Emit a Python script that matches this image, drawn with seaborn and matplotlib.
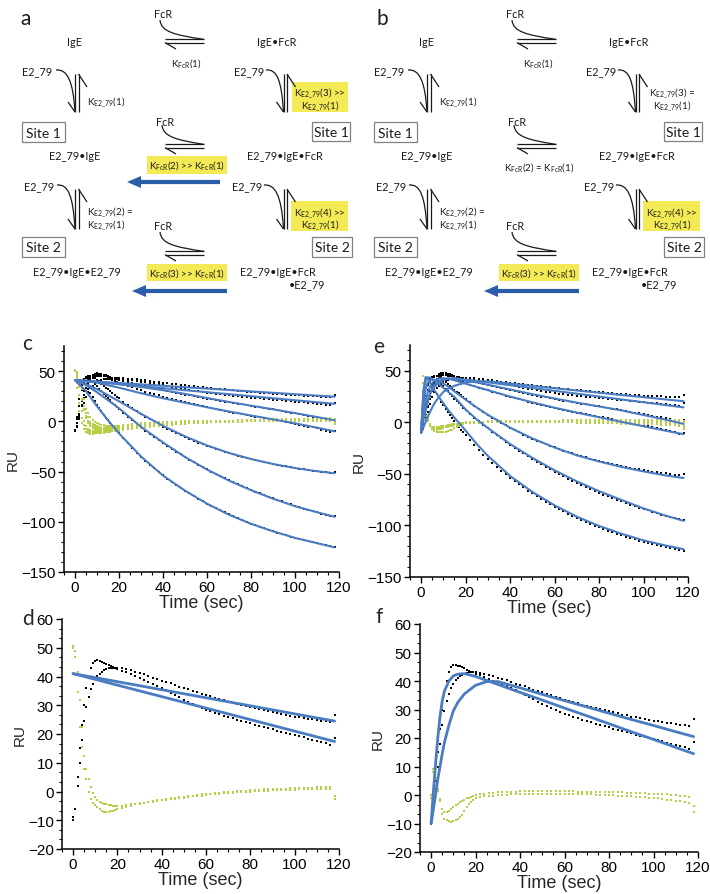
import matplotlib
matplotlib.use("Agg")
import numpy as np
import pandas as pd
import matplotlib.pyplot as plt
from matplotlib.path import Path
from matplotlib.patches import PathPatch, Rectangle, FancyArrow
from matplotlib.ticker import MultipleLocator, AutoMinorLocator
import seaborn as sns

sns.set_theme(style="ticks", rc={"axes.edgecolor": "black", "xtick.color": "black",
                                 "ytick.color": "black", "axes.linewidth": 1.1})
plt.rcParams["font.family"] = ["Liberation Sans", "DejaVu Sans"]
plt.rcParams["mathtext.fontset"] = "custom"
plt.rcParams["mathtext.rm"] = "Lato"
plt.rcParams["mathtext.it"] = "Lato:italic"

# ---------------- data ----------------
# sampling times of the measured points (1 s early, 2 s afterwards)
T = list(range(0, 21)) + list(range(22, 119, 2))

# measured response, 7 injections (same data in c, d, e, f)
black_1 = [-9, -6, 2, 10, 18, 24.5, 29.5, 33, 35.5, 37.5, 39, 40.2, 41, 41.7, 42.2, 42.5, 42.8, 43.0, 43.1, 43.1, 43.0,
           42.9, 42.6, 42.2, 41.7, 41.2, 40.7, 40.2, 39.6, 39.1, 38.6, 38.1, 37.6, 37.0, 36.5, 36.0, 35.5, 35.0, 34.5, 34.0, 33.5,
           33.1, 32.6, 32.2, 31.7, 31.3, 30.9, 30.5, 30.1, 29.7, 29.3, 29.0, 28.6, 28.2, 27.9, 27.5, 27.2, 26.9, 26.6, 26.3, 26.0,
           25.8, 25.6, 25.3, 25.1, 24.8, 24.6, 24.4, 24.1, 26.5]
black_2 = [-10, -6, 5, 15, 23, 30, 36, 40, 43, 44.8, 45.5, 45.6, 45.4, 45.1, 44.8, 44.4, 44.0, 43.6, 43.3, 43.0, 42.6,
           42.0, 41.4, 40.8, 40.1, 39.5, 38.8, 38.1, 37.4, 36.7, 36.0, 35.2, 34.4, 33.6, 32.8, 32.0, 31.2, 30.5, 29.8, 29.1, 28.5,
           27.9, 27.4, 26.9, 26.4, 26.0, 25.5, 25.0, 24.6, 24.1, 23.7, 23.3, 22.9, 22.5, 22.1, 21.6, 21.2, 20.8, 20.4, 20.0, 19.6,
           19.2, 18.8, 18.4, 18.0, 17.5, 17.1, 16.7, 16.2, 18.5]
black_3 = [-10, -6, 4, 16, 26, 33, 38.5, 42, 44.5, 46, 47, 47.2, 47, 46.5, 45.8, 45, 44.2, 43.4, 42.6, 41.8, 41.0,
           40.2, 39.3, 38.3, 37.3, 36.3, 35.3, 34.3, 33.3, 32.3, 31.3, 30.3, 29.4, 28.5, 27.6, 26.7, 25.8, 25.0, 24.2, 23.4, 22.6,
           21.8, 21.0, 20.3, 19.6, 18.9, 18.2, 17.5, 16.8, 16.1, 15.4, 14.7, 14.0, 13.3, 12.6, 11.9, 11.1, 10.3, 9.5, 8.7, 7.9,
           7.1, 6.3, 5.5, 4.7, 3.9, 3.1, 2.3, 1.4, 2.5]
black_4 = [-10, -5, 7, 20, 30, 37, 41.5, 44.5, 46.5, 47.5, 48, 47.5, 46.7, 45.8, 44.8, 43.7, 42.6, 41.5, 40.4, 39.3, 38.2,
           36.6, 35.1, 33.7, 32.3, 31.0, 29.7, 28.4, 27.1, 25.8, 24.5, 23.4, 22.3, 21.2, 20.1, 19.0, 18.0, 17.0, 16.0, 15.0, 14.0,
           13.1, 12.2, 11.3, 10.4, 9.5, 8.7, 7.9, 7.1, 6.3, 5.5, 4.7, 3.9, 3.1, 2.3, 1.5, 0.7, -0.1, -0.9, -1.7, -2.5,
           -3.4, -4.3, -5.2, -6.1, -7.0, -8.3, -9.6, -11.0, -10.0]
black_5 = [-10, -2, 15, 31, 39.5, 43.5, 45, 45, 44.2, 43, 41.5, 39.5, 37.5, 35.5, 33.6, 31.7, 29.9, 28.0, 26.3, 24.5, 22.8,
           19.5, 16.3, 13.2, 10.2, 7.4, 4.6, 2.0, -0.5, -3.0, -5.3, -7.6, -9.8, -11.9, -13.9, -15.8, -17.7, -19.5, -21.2, -22.8, -24.4,
           -26.0, -27.5, -28.9, -30.2, -31.6, -32.8, -34.1, -35.2, -36.4, -37.4, -38.5, -39.5, -40.5, -41.4, -42.3, -43.1, -44.0,
           -44.8, -45.5, -46.3, -47.0, -47.7, -48.3, -49.0, -49.6, -50.1, -50.7, -51.2, -50.0]
black_6 = [-10, 2, 22, 36, 42, 44, 43.5, 42, 40, 37.5, 35, 32.5, 30, 27.6, 25.3, 23, 20.8, 18.6, 16.4, 14.2, 12.0,
           8.2, 4.6, 1.0, -2.5, -5.9, -9.2, -12.4, -15.6, -18.6, -21.6, -24.5, -27.4, -30.2, -32.9, -35.5, -38.1, -40.6, -43.1,
           -45.4, -47.8, -50.1, -52.3, -54.5, -56.6, -58.6, -60.7, -62.6, -64.6, -66.4, -68.2, -70.0, -71.7, -73.4, -75.1, -76.7,
           -78.2, -79.8, -81.3, -82.7, -84.1, -85.5, -86.8, -88.1, -89.4, -90.6, -91.9, -93.1, -94.2, -94.5]
black_7 = [-10, 4, 26, 38, 41, 36.5, 32, 27.8, 23.8, 20, 16.4, 13, 9.8, 6.7, 3.8, 1, -1.8, -4.4, -7, -9.5, -12,
           -17.0, -22.0, -27.0, -31.6, -35.6, -39.5, -43.2, -46.9, -50.4, -53.8, -57.0, -60.2, -63.2, -66.2, -69.0, -71.8, -74.4,
           -77.0, -79.5, -81.9, -84.2, -86.4, -88.6, -90.7, -92.7, -94.6, -96.5, -98.3, -100.1, -101.8, -103.4, -105.0, -106.5,
           -108.0, -109.5, -110.8, -112.2, -113.5, -114.7, -115.9, -117.1, -118.2, -119.3, -120.3, -121.3, -122.3, -123.2,
           -124.1, -125.0]

# residuals of the model of panel c/d
green_c1 = [50, 49, 41.5, 32, 22.5, 12.5, 8, 4.5, 1.5, -0.5, -2, -3, -3.6, -4.0, -4.3, -4.5, -4.7, -4.8, -4.9, -5.0, -5.0,
            -4.9, -4.7, -4.5, -4.3, -4.1, -3.9, -3.7, -3.5, -3.3, -3.1, -2.9, -2.7, -2.5, -2.3, -2.1, -1.9, -1.7, -1.5, -1.4, -1.2,
            -1.0, -0.9, -0.7, -0.6, -0.5, -0.4, -0.3, -0.2, -0.1, 0.0, 0.1, 0.2, 0.2, 0.3, 0.4, 0.4, 0.5, 0.5, 0.6, 0.6,
            0.7, 0.7, 0.8, 0.8, 0.9, 0.9, 1.0, 1.0, -2.5]
green_c2 = [50.7, 46.7, 34.5, 22.3, 15.4, 7.8, 4.3, -0.3, -2.6, -4, -4.8, -5.5, -6.2, -6.7, -7.1, -7.2, -7.1, -6.9, -6.7, -6.4, -6.1,
            -5.7, -5.3, -4.9, -4.5, -4.2, -3.9, -3.6, -3.3, -3.1, -2.9, -2.6, -2.4, -2.2, -2.0, -1.8, -1.6, -1.4, -1.2, -1.0, -0.9,
            -0.7, -0.5, -0.4, -0.2, -0.1, 0.0, 0.1, 0.2, 0.3, 0.4, 0.5, 0.6, 0.7, 0.8, 0.8, 0.9, 1.0, 1.0, 1.1, 1.1,
            1.2, 1.2, 1.3, 1.3, 1.4, 1.4, 1.5, 1.5, -1.5]
green_c3 = [51, 45, 35, 22, 12, 5, 0.5, -2.5, -4.5, -6, -7, -7.4, -7.6, -7.6, -7.4, -7.1, -6.8, -6.4, -6, -5.6, -5.2,
            -4.8, -4.4, -4.0, -3.6, -3.2, -2.9, -2.6, -2.3, -2.0, -1.7, -1.4, -1.2, -1.0, -0.8, -0.6, -0.4, -0.3, -0.2, -0.1, 0.0,
            0.1, 0.2, 0.3, 0.4, 0.5, 0.6, 0.7, 0.8, 0.9, 1.0, 1.0, 1.1, 1.1, 1.2, 1.2, 1.3, 1.3, 1.3, 1.4, 1.4,
            1.4, 1.5, 1.5, 1.5, 1.6, 1.6, 1.6, 1.7, -0.5]
green_c4 = [51, 46, 34, 21, 11, 3.5, -1.5, -4.5, -6.5, -8, -9, -9.3, -9.3, -9.1, -8.8, -8.4, -8, -7.5, -7, -6.5, -6,
            -5.5, -5.0, -4.5, -4.0, -3.6, -3.2, -2.8, -2.4, -2.0, -1.7, -1.4, -1.1, -0.9, -0.7, -0.5, -0.3, -0.2, -0.1, 0.0, 0.1,
            0.2, 0.3, 0.3, 0.4, 0.4, 0.5, 0.5, 0.6, 0.6, 0.7, 0.7, 0.7, 0.8, 0.8, 0.8, 0.9, 0.9, 0.9, 1.0, 1.0,
            1.0, 1.0, 1.1, 1.1, 1.1, 1.1, 1.2, 1.2, 2.0]
green_c5 = [51, 43, 26, 10, 0, -5, -7.5, -9, -9.7, -10, -9.8, -9.4, -8.9, -8.3, -7.7, -7.1, -6.5, -5.9, -5.3, -4.7, -4.2,
            -3.7, -3.2, -2.8, -2.4, -2.0, -1.7, -1.4, -1.1, -0.9, -0.7, -0.5, -0.3, -0.2, -0.1, 0.0, 0.1, 0.2, 0.2, 0.3, 0.3,
            0.4, 0.4, 0.4, 0.5, 0.5, 0.5, 0.5, 0.6, 0.6, 0.6, 0.6, 0.6, 0.6, 0.7, 0.7, 0.7, 0.7, 0.7, 0.7, 0.7,
            0.7, 0.8, 0.8, 0.8, 0.8, 0.8, 0.8, 0.8, -1.0]
green_c6 = [51, 38, 18, 3, -4, -8, -10, -11, -11.5, -11.7, -11.7, -11.6, -11.4, -11.2, -11.0, -10.7, -10.4, -10.1, -9.8, -9.5, -9.2,
            -8.6, -8.0, -7.5, -7.0, -6.5, -6.0, -5.5, -5.0, -4.5, -4.1, -3.7, -3.3, -2.9, -2.5, -2.2, -1.9, -1.6, -1.3, -1.1, -0.9,
            -0.7, -0.5, -0.4, -0.3, -0.2, -0.1, 0.0, 0.1, 0.2, 0.2, 0.3, 0.3, 0.4, 0.4, 0.4, 0.5, 0.5, 0.5, 0.5, 0.6,
            0.6, 0.6, 0.6, 0.7, 0.7, 0.7, 0.7, 0.7, -1.0]
green_c7 = [51, 33, 10, -2, -8, -11, -12, -12.3, -12.3, -12.1, -11.8, -11.5, -11.1, -10.7, -10.3, -9.9, -9.5, -9.1, -8.7, -8.3, -7.9,
            -7.2, -6.6, -6.0, -5.4, -4.9, -4.4, -4.0, -3.6, -3.2, -2.8, -2.5, -2.2, -1.9, -1.6, -1.3, -1.0, -0.8, -0.6, -0.4, -0.2,
            0.0, 0.2, 0.4, 0.5, 0.7, 0.8, 1.0, 1.1, 1.3, 1.4, 1.5, 1.6, 1.7, 1.8, 1.9, 2.0, 2.1, 2.2, 2.3, 2.4,
            2.5, 2.6, 2.7, 2.8, 2.8, 2.9, 2.9, 3.0, 1.5]

# residuals of the model of panel e/f
green_e1 = [-1, 8, 6, 2, -2, -6.5, -8.3, -8.9, -9.2, -9.3, -9.2, -8.9, -8.4, -7.8, -7, -5.5, -4.2, -3.2, -2.3, -1.6, -1.1,
            -0.7, -0.5, -0.3, -0.2, -0.1, 0.0, 0.1, 0.2, 0.3, 0.3, 0.3, 0.3, 0.3, 0.3, 0.3, 0.3, 0.3, 0.3, 0.3, 0.3,
            0.3, 0.3, 0.3, 0.2, 0.2, 0.2, 0.1, 0.1, 0.0, 0.0, -0.1, -0.2, -0.3, -0.4, -0.5, -0.6, -0.7, -0.8, -0.9, -1.0,
            -1.2, -1.4, -1.6, -1.8, -2.0, -2.2, -2.5, -2.8, -6.0]
green_e2 = [0, 9, 3, 1.5, -1.5, -5, -6, -6, -5.5, -4.8, -4.2, -3.6, -3.0, -2.5, -2.0, -1.6, -1.2, -0.9, -0.6, -0.3, 0.0,
            0.2, 0.4, 0.6, 0.8, 0.9, 1.0, 1.1, 1.2, 1.2, 1.3, 1.3, 1.3, 1.3, 1.3, 1.3, 1.3, 1.3, 1.3, 1.3, 1.3,
            1.3, 1.3, 1.2, 1.2, 1.2, 1.2, 1.1, 1.1, 1.1, 1.0, 1.0, 0.9, 0.9, 0.8, 0.8, 0.7, 0.7, 0.6, 0.5, 0.5,
            0.4, 0.3, 0.2, 0.1, 0.0, -0.2, -0.4, -0.7, -4.0]
green_e3 = [0, 16, 12, 4, -2, -5, -6.5, -7, -6.8, -6.3, -5.7, -5, -4.4, -3.8, -3.2, -2.7, -2.2, -1.8, -1.4, -1.1, -0.8,
            -0.5, -0.3, -0.1, 0.1, 0.2, 0.3, 0.4, 0.5, 0.5, 0.6, 0.6, 0.6, 0.6, 0.6, 0.6, 0.6, 0.6, 0.5, 0.5, 0.5,
            0.4, 0.4, 0.3, 0.3, 0.2, 0.2, 0.1, 0.0, -0.1, -0.2, -0.3, -0.4, -0.5, -0.6, -0.7, -0.8, -0.9, -1.0, -1.1, -1.2,
            -1.3, -1.4, -1.5, -1.6, -1.7, -1.8, -1.9, -2.0, -3.5]
green_e4 = [0, 22, 14, 3, -3, -5.5, -6.5, -6.5, -6, -5.4, -4.8, -4.2, -3.6, -3.1, -2.6, -2.2, -1.8, -1.5, -1.2, -0.9, -0.7,
            -0.4, -0.2, 0.0, 0.1, 0.2, 0.3, 0.4, 0.4, 0.5, 0.5, 0.5, 0.5, 0.5, 0.5, 0.4, 0.4, 0.3, 0.3, 0.2, 0.2,
            0.1, 0.0, 0.0, -0.1, -0.2, -0.3, -0.4, -0.5, -0.6, -0.7, -0.8, -0.9, -1.0, -1.1, -1.2, -1.3, -1.4, -1.5, -1.6, -1.7,
            -1.8, -1.9, -2.0, -2.1, -2.2, -2.3, -2.4, -2.5, -4.5]
green_e5 = [0, 30, 20, 5, -2.5, -4.5, -5, -4.8, -4.4, -4, -3.6, -3.2, -2.8, -2.4, -2.1, -1.8, -1.5, -1.2, -1.0, -0.8, -0.6,
            -0.4, -0.2, -0.1, 0.0, 0.1, 0.2, 0.3, 0.3, 0.4, 0.4, 0.4, 0.4, 0.4, 0.4, 0.4, 0.3, 0.3, 0.3, 0.2, 0.2,
            0.1, 0.1, 0.0, 0.0, -0.1, -0.2, -0.2, -0.3, -0.4, -0.5, -0.6, -0.7, -0.8, -0.9, -1.0, -1.1, -1.2, -1.3, -1.4, -1.5,
            -1.7, -1.9, -2.1, -2.3, -2.5, -2.7, -2.9, -3.1, -5.0]
green_e6 = [0, 38, 22, 4, -3, -5, -5.2, -5, -4.6, -4.1, -3.7, -3.3, -2.9, -2.5, -2.2, -1.9, -1.6, -1.3, -1.1, -0.9, -0.7,
            -0.5, -0.3, -0.1, 0.1, 0.2, 0.3, 0.4, 0.5, 0.6, 0.7, 0.8, 0.9, 1.0, 1.0, 1.1, 1.1, 1.2, 1.2, 1.2, 1.3,
            1.3, 1.3, 1.4, 1.4, 1.4, 1.4, 1.5, 1.5, 1.5, 1.5, 1.5, 1.5, 1.6, 1.6, 1.6, 1.6, 1.6, 1.6, 1.6, 1.6,
            1.6, 1.6, 1.6, 1.7, 1.7, 1.7, 1.7, 1.7, 0.5]
green_e7 = [0, 45, 18, 2, -4, -6, -6, -5.6, -5, -4.4, -3.9, -3.4, -3, -2.6, -2.2, -1.9, -1.6, -1.3, -1.1, -0.9, -0.7,
            -0.5, -0.3, -0.1, 0.0, 0.1, 0.2, 0.3, 0.4, 0.5, 0.6, 0.7, 0.8, 0.9, 1.0, 1.1, 1.2, 1.3, 1.4, 1.5, 1.6,
            1.7, 1.8, 1.9, 2.0, 2.0, 2.1, 2.1, 2.2, 2.2, 2.3, 2.3, 2.4, 2.4, 2.4, 2.5, 2.5, 2.5, 2.5, 2.5, 2.5,
            2.5, 2.5, 2.5, 2.5, 2.5, 2.5, 2.5, 2.5, 1.0]

# fitted curves, model of panels c/d
t_fit_c = [0, 5, 10, 15, 20, 30, 40, 50, 60, 70, 80, 90, 100, 110, 118]
fit_c1 = [41, 40.3, 39.6, 38.9, 38.2, 36.8, 35.4, 34.0, 32.6, 31.2, 29.8, 28.4, 27.0, 25.6, 24.5]
fit_c2 = [41, 40, 39, 38, 37, 35, 33, 31, 29, 27, 25, 23, 21, 19, 17.4]
fit_c3 = [41, 40.5, 39.6, 38.4, 37, 34.2, 31, 27.3, 23.2, 19.3, 15.6, 12, 8.2, 4.3, 1.0]
fit_c4 = [41, 40, 38.5, 36, 33.5, 28, 23, 18.5, 14, 9.8, 5.8, 2, -2, -6.3, -10]
fit_c5 = [41, 37, 32, 26, 20, 7.5, -4.5, -15, -24, -31.5, -37.5, -42.5, -46.5, -49.7, -51.7]
fit_c6 = [41, 36, 29, 21, 13, -5.5, -21, -35.5, -48, -59, -68.5, -77, -84.5, -90.5, -95]
fit_c7 = [41, 30, 15, 1, -12, -35, -54, -69, -82, -93, -102, -109.5, -116, -121.3, -125.5]

# fitted curves, model of panels e/f
t_fit_e = [0, 1, 2, 3, 4, 5, 6, 8, 10, 12, 15, 20, 25, 30, 40, 50, 60, 70, 80, 90, 100, 110, 118]
fit_e1 = [-10, -5, 0, 5.5, 10, 14.5, 18.5, 24.5, 29.5, 32.5, 35.5, 38.5, 39.8, 39.8, 37.6, 35.3, 33.1, 30.9, 28.7, 26.5, 24.4, 22.2, 20.5]
fit_e2 = [-10, 1, 11, 20, 27.5, 33, 36.5, 40, 41.8, 42.4, 42.6, 41.6, 40.2, 38.8, 36.0, 33.3, 30.5, 27.8, 25.0, 22.2, 19.5, 16.7, 14.5]
fit_e3 = [-10, 5, 15, 22, 27.5, 31.5, 34.5, 38.5, 41, 42.2, 42.6, 40.2, 38.7, 36.5, 31.9, 27.3, 23.1, 19.1, 15.4, 11.6, 7.1, 2.6, -1.5]
fit_e4 = [-10, 9, 21, 29, 34.5, 38, 40.5, 42.5, 42.8, 42.3, 40.8, 37.5, 34.3, 31.2, 25, 19.4, 14.2, 9.4, 4.9, 0.5, -3.8, -8.2, -11.5]
fit_e5 = [-10, 18, 32, 38.5, 41, 41.5, 41, 39.5, 37.5, 35, 30, 22, 14.4, 7.3, -5.2, -15.6, -24.4, -32, -38, -43.2, -47.6, -51.5, -54]
fit_e6 = [-10, 28, 40, 43.5, 43.5, 42, 40.5, 37, 33.5, 30, 24.5, 12.5, 2.8, -5.5, -21, -34.5, -46.5, -57.3, -66.8, -75.2, -83.5, -90.5, -95.5]
fit_e7 = [-10, 30, 44, 42.5, 38.5, 34.5, 31, 24.5, 18.5, 12.5, 4.5, -8, -21, -32.5, -52, -67.5, -80.5, -91.5, -100.5, -108, -114.5, -119.5, -123]

black_all = [black_1, black_2, black_3, black_4, black_5, black_6, black_7]
green_c = [green_c1, green_c2, green_c3, green_c4, green_c5, green_c6, green_c7]
green_e = [green_e1, green_e2, green_e3, green_e4, green_e5, green_e6, green_e7]
fits_c = [fit_c1, fit_c2, fit_c3, fit_c4, fit_c5, fit_c6, fit_c7]
fits_e = [fit_e1, fit_e2, fit_e3, fit_e4, fit_e5, fit_e6, fit_e7]

BLUE = "#4A7CC2"
GREEN = "#B8CF45"
ARROW = "#2C5DA8"
YELLOW = "#F3EA55"
INK = "#1a1a1a"
SFONT = ["Lato", "DejaVu Sans"]

W, H = 710, 895
fig = plt.figure(figsize=(W / 100, H / 100), dpi=100)


def long_df(t, series):
    parts = [pd.DataFrame({"t": t, "RU": v, "run": k}) for k, v in enumerate(series)]
    return pd.concat(parts, ignore_index=True)


def axes_px(x0, y0, x1, y1):
    return fig.add_axes([x0 / W, 1 - y1 / H, (x1 - x0) / W, (y1 - y0) / H])


def sensorgram(ax, black, green, fits, tfit, ylim, ystep, yminor, lw, dot):
    sns.scatterplot(data=long_df(T, black), x="t", y="RU", color="black", marker="s",
                    s=dot, linewidth=0, legend=False, ax=ax, zorder=2)
    sns.scatterplot(data=long_df(T, green), x="t", y="RU", color=GREEN, marker="s",
                    s=dot, linewidth=0, legend=False, ax=ax, zorder=2)
    sns.lineplot(data=long_df(tfit, fits), x="t", y="RU", units="run", estimator=None,
                 color=BLUE, lw=lw, legend=False, ax=ax, zorder=3)
    ax.set_xlim(-5, 120)
    ax.set_ylim(*ylim)
    ax.xaxis.set_major_locator(MultipleLocator(20))
    ax.xaxis.set_minor_locator(MultipleLocator(5))
    ax.yaxis.set_major_locator(MultipleLocator(ystep))
    ax.yaxis.set_minor_locator(AutoMinorLocator(yminor))
    ax.tick_params(which="major", direction="out", length=4, width=1, labelsize=11, pad=2)
    ax.tick_params(which="minor", direction="out", length=2.3, width=0.8)
    sns.despine(ax=ax)
    ax.set_xlabel("Time (sec)", fontsize=13, labelpad=0)
    ax.set_ylabel("RU", fontsize=11, labelpad=1)


ax_c = axes_px(64, 347, 339, 573)
sensorgram(ax_c, black_all, green_c, fits_c, t_fit_c, (-150, 75), 50, 5, 1.5, 2.2)
ax_e = axes_px(410, 346, 688, 578)
sensorgram(ax_e, black_all, green_e, fits_e, t_fit_e, (-150, 75), 50, 5, 1.5, 2.2)
ax_d = axes_px(62, 620, 339, 850)
sensorgram(ax_d, black_all[:2], green_c[:2], fits_c[:2], t_fit_c, (-20, 60), 10, 3, 2.0, 2.6)
ax_f = axes_px(420, 625, 698, 853)
sensorgram(ax_f, black_all[:2], green_e[:2], fits_e[:2], t_fit_e, (-20, 60), 10, 3, 2.0, 2.6)

# ---------------- reaction schemes (a, b) ----------------
sax = fig.add_axes([0, 1 - 300 / H, 1, 300 / H])
sax.set_xlim(0, W)
sax.set_ylim(300, 0)
sax.axis("off")


def KF(n):
    return r"K$_{\mathrm{FcR}}$(" + n + ")"


def KE(n):
    return r"K$_{\mathrm{E2\_79}}$(" + n + ")"


def txt(x, y, s, size=7.8, ha="center", color=INK):
    sax.text(x, y, s, ha=ha, va="center", fontsize=size, family=SFONT, color=color)


def seg(p, q):
    sax.plot([p[0], q[0]], [p[1], q[1]], color=INK, lw=0.9, solid_capstyle="butt")


def curve(pts):
    codes = [Path.MOVETO, Path.CURVE4, Path.CURVE4, Path.CURVE4]
    sax.add_patch(PathPatch(Path(pts, codes), fill=False, ec=INK, lw=0.9))


def h_equil(x0, x1, y, fx):
    seg((x0, y - 1.6), (x1, y - 1.6))
    seg((x0, y + 1.6), (x1, y + 1.6))
    seg((x0, y + 1.6), (x0 + 11, y + 8))
    curve([(fx - 3, y - 21), (fx - 2, y - 9), (fx + 12, y - 6), (x1, y - 1.6)])


def v_equil(x, y0, y1, sx, sy):
    seg((x, y0), (x, y1))
    seg((x + 3.5, y0), (x + 3.5, y1))
    seg((x + 3.5, y0), (x + 12, y0 + 13))
    seg((x, y1), (x - 7, y1 - 10))
    curve([(sx, sy), (sx + 11, sy - 1), (x - 2, sy + 10), (x, y1)])


def hilite(x0, y0, x1, y1):
    sax.add_patch(Rectangle((x0, y0), x1 - x0, y1 - y0, fc=YELLOW, ec="none", zorder=0))


def site(x0, y0, x1, y1, label):
    sax.add_patch(Rectangle((x0, y0), x1 - x0, y1 - y0, fc="white", ec="#808080", lw=0.9))
    txt((x0 + x1) / 2, (y0 + y1) / 2 + 0.5, label, size=10)


def blue_arrow(xa, xb, y):
    sax.add_patch(FancyArrow(xa, y, xb - xa, 0, width=4.2, head_width=12, head_length=14,
                             length_includes_head=True, color=ARROW, lw=0))


def scheme(dx, letter, x_letter, first_row_fast):
    txt(x_letter, 19, letter, size=15)
    # top row
    txt(74 + dx, 42, "IgE")
    txt(277 + dx, 42, "IgE•FcR")
    txt(163 + dx, 14, "FcR")
    h_equil(165 + dx, 204 + dx, 42, 163 + dx)
    txt(186 + dx, 63, KF("1"), size=7)
    # first E2_79 binding
    txt(37 + dx, 72, "E2_79")
    v_equil(75 + dx, 75, 113, 56 + dx, 71)
    txt(87 + dx, 102, KE("1"), size=7, ha="left")
    txt(249 + dx, 72, "E2_79")
    v_equil(283.5 + dx, 75, 113, 266 + dx, 71)
    if first_row_fast:
        hilite(292 + dx, 83, 348 + dx, 113)
        txt(320 + dx, 93, KE("3") + " >>", size=7)
    else:
        txt(320 + dx, 93, KE("3") + " =", size=7)
    txt(320 + dx, 106, KE("1"), size=7)
    site(22 + dx, 123, 65 + dx, 143, "Site 1")
    site(312 + dx, 123, 350 + dx, 142, "Site 1")
    # middle row
    txt(75 + dx, 157, "E2_79•IgE")
    txt(285 + dx, 157, "E2_79•IgE•FcR")
    txt(165 + dx, 123, "FcR")
    h_equil(165 + dx, 204 + dx, 147, 165 + dx)
    if first_row_fast:
        hilite(147 + dx, 157, 227 + dx, 175)
        txt(187 + dx, 166, KF("2") + " >> " + KF("1"), size=7)
        blue_arrow(220 + dx, 127 + dx, 183)
    else:
        txt(187 + dx, 168, KF("2") + " = " + KF("1"), size=7)
    # second E2_79 binding
    txt(39 + dx, 187, "E2_79")
    v_equil(75 + dx, 190, 230, 57 + dx, 186)
    txt(87 + dx, 212, KE("2") + " =", size=7, ha="left")
    txt(87 + dx, 225, KE("1"), size=7, ha="left")
    txt(247 + dx, 187, "E2_79")
    v_equil(283.5 + dx, 190, 230, 264 + dx, 186)
    hilite(291 + dx, 202, 348 + dx, 232)
    txt(320 + dx, 213, KE("4") + " >>", size=7)
    txt(320 + dx, 225, KE("1"), size=7)
    site(22 + dx, 238, 65 + dx, 258, "Site 2")
    site(312 + dx, 238, 352 + dx, 258, "Site 2")
    # bottom row
    txt(163 + dx, 227, "FcR")
    h_equil(165 + dx, 204 + dx, 254, 163 + dx)
    hilite(147 + dx, 265, 227 + dx, 282)
    txt(187 + dx, 273, KF("3") + " >> " + KF("1"), size=7)
    txt(77 + dx, 272, "E2_79•IgE•E2_79")
    txt(278 + dx, 272, "E2_79•IgE•FcR")
    txt(307 + dx, 285, "•E2_79")
    blue_arrow(227 + dx, 132 + dx, 292)


scheme(0, "a", 26, True)
scheme(352, "b", 382, False)

# panel letters of the sensorgrams
for lab, x, y in [("c", 27, 344), ("e", 379, 347), ("d", 28, 619), ("f", 379, 617)]:
    fig.text(x / W, 1 - y / H, lab, fontsize=15, family=SFONT, ha="center", va="center")

fig.savefig("out.png", dpi=100)
